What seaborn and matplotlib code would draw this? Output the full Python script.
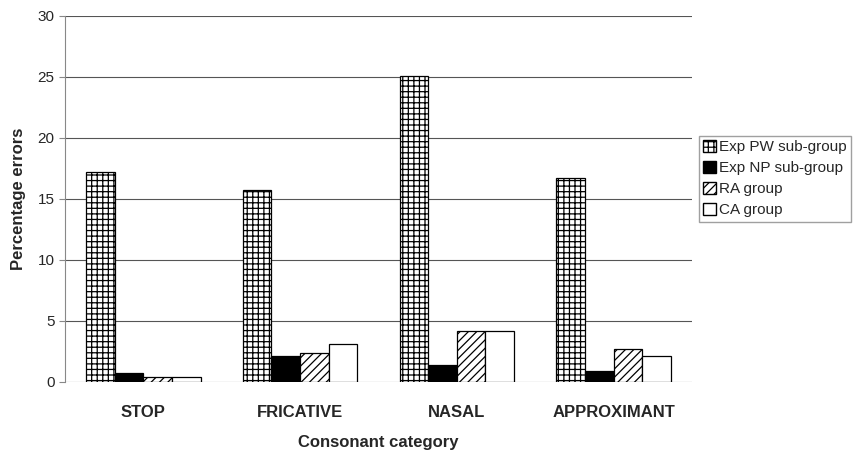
import pandas as pd
import numpy as np
import seaborn as sns
import matplotlib.pyplot as plt
from matplotlib.patches import Patch

categories = ["STOP", "FRICATIVE", "NASAL", "APPROXIMANT"]
groups = ["Exp PW sub-group", "Exp NP sub-group", "RA group", "CA group"]
pw_vals = [17.2, 15.7, 25.1, 16.7]
np_vals = [0.7, 2.1, 1.4, 0.9]
ra_vals = [0.4, 2.4, 4.2, 2.7]
ca_vals = [0.4, 3.1, 4.2, 2.1]

df = pd.DataFrame({
    "category": categories * 4,
    "group": np.repeat(groups, 4),
    "value": pw_vals + np_vals + ra_vals + ca_vals,
})

sns.set_style("white")
plt.rcParams["font.family"] = ["Liberation Sans", "DejaVu Sans"]
plt.rcParams["hatch.linewidth"] = 0.9

fig = plt.figure(figsize=(8.67, 4.54), dpi=100)
ax = fig.add_axes([0.075, 0.159, 0.723, 0.806])

sns.barplot(data=df, x="category", y="value", hue="group", order=categories,
            hue_order=groups, width=0.73, gap=0, errorbar=None, ax=ax,
            legend=False, edgecolor="black", linewidth=0.9, zorder=3)

fills = ["white", "black", "white", "white"]
hatches = ["+++", None, "////", None]
for cont, fc, h in zip(ax.containers, fills, hatches):
    for bar in cont:
        bar.set_facecolor(fc)
        bar.set_edgecolor("black")
        if h:
            bar.set_hatch(h)

ax.set_ylim(0, 30)
ax.set_xlim(-0.5, 3.5)
ax.set_yticks(range(0, 31, 5))
ax.yaxis.grid(True, color="#555555", linewidth=0.8, zorder=0)
ax.set_axisbelow(True)
for s in ["top", "right", "bottom"]:
    ax.spines[s].set_visible(False)
ax.spines["left"].set_color("#888888")
ax.tick_params(axis="y", left=True, length=4, color="#888888", labelsize=11)
ax.tick_params(axis="x", bottom=False, labelsize=12, pad=13)
for lab in ax.get_xticklabels():
    lab.set_fontweight("bold")

ax.set_xlabel("Consonant category", fontsize=12, fontweight="bold", labelpad=11)
ax.set_ylabel("Percentage errors", fontsize=12, fontweight="bold", labelpad=8)

handles = [Patch(facecolor=fc, edgecolor="black", hatch=h, label=g)
           for fc, h, g in zip(fills, hatches, groups)]
leg = fig.legend(handles=handles, loc="center left", bbox_to_anchor=(0.806, 0.606),
                 fontsize=11, frameon=True, fancybox=False, handlelength=0.8,
                 handleheight=0.8, handletextpad=0.2, labelspacing=0.45,
                 borderpad=0.3, borderaxespad=0)
leg.get_frame().set_edgecolor("#888888")

fig.savefig("out.png", dpi=100)
